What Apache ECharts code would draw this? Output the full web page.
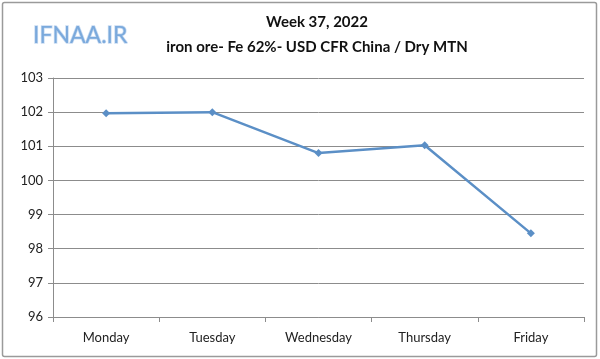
<!DOCTYPE html>
<html>
<head>
<meta charset="utf-8">
<script src="https://cdn.jsdelivr.net/npm/echarts@6/dist/echarts.min.js"></script>
<style>html,body{margin:0;padding:0;background:#fff}#c{width:600px;height:359px}</style>
</head>
<body>
<div id="c"></div>
<script>
const categories = ['Monday', 'Tuesday', 'Wednesday', 'Thursday', 'Friday'];
const prices = [101.97, 102.0, 100.8, 101.03, 98.45];
const titleText = 'Week 37, 2022';
const subtitleText = 'iron ore- Fe 62%- USD CFR China / Dry MTN';
const watermark = 'IFNAA.IR';
const yMin = 96, yMax = 103, yStep = 1;

const chart = echarts.init(document.getElementById('c'));
const font = 'Lato, "Open Sans", sans-serif';
chart.setOption({
  animation: false,
  backgroundColor: '#fff',
  title: [
    { text: titleText, left: 312, top: 10, textAlign: 'center',
      textStyle: { fontFamily: font, fontSize: 15, fontWeight: 'bold', color: '#111' } },
    { text: subtitleText, left: 312, top: 35, textAlign: 'center',
      textStyle: { fontFamily: font, fontSize: 15, fontWeight: 'bold', color: '#111' } },
    { text: watermark, left: 28, top: 19,
      textStyle: { fontFamily: font, fontSize: 23, fontWeight: 'normal', color: '#7aa9dc',
        textBorderColor: '#c9dcf2', textBorderWidth: 1.5 } }
  ],
  graphic: [
    { type: 'rect', shape: { x: 2.5, y: 2.5, width: 594, height: 354, r: 2 },
      style: { fill: 'none', stroke: '#9a9a9a', lineWidth: 1.5 }, silent: true }
  ],
  grid: { left: 53, right: 16, top: 78, bottom: 42 },
  xAxis: {
    type: 'category', data: categories, boundaryGap: true,
    axisLine: { lineStyle: { color: '#8c8c8c', width: 1 } },
    axisTick: { show: true, length: 5, lineStyle: { color: '#8c8c8c' } },
    axisLabel: { fontFamily: font, fontSize: 13, color: '#222', margin: 14 },
    splitLine: { show: false }
  },
  yAxis: {
    type: 'value', min: yMin, max: yMax, interval: yStep,
    axisLine: { show: true, lineStyle: { color: '#8c8c8c', width: 1 } },
    axisTick: { show: true, length: 5, lineStyle: { color: '#8c8c8c' } },
    axisLabel: { fontFamily: font, fontSize: 13, color: '#222', margin: 10 },
    splitLine: { show: true, lineStyle: { color: '#8c8c8c', width: 1 } }
  },
  series: [{
    type: 'line', data: prices,
    symbol: 'diamond', symbolSize: 8,
    lineStyle: { color: '#5b8fc6', width: 2.5 },
    itemStyle: { color: '#5b8fc6' }
  }]
});
</script>
</body>
</html>
